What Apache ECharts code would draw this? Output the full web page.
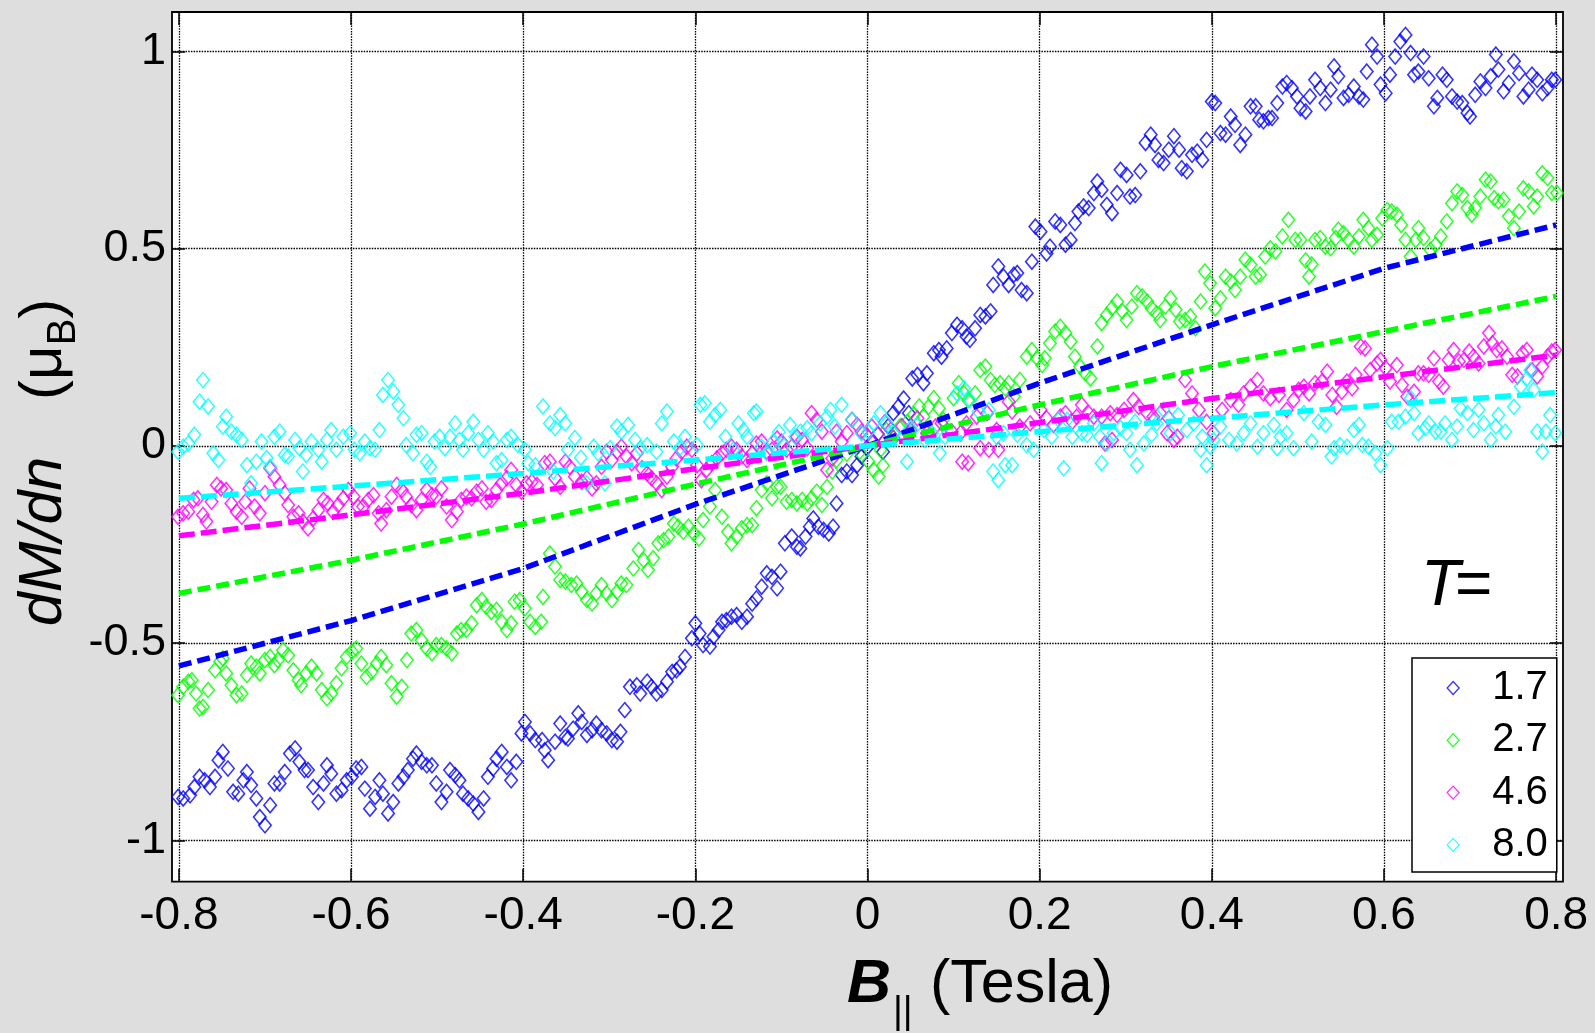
<!DOCTYPE html>
<html><head><meta charset="utf-8">
<script src="https://cdn.jsdelivr.net/npm/echarts@6/dist/echarts.min.js"></script>
<style>html,body{margin:0;padding:0;background:#dedede;}#c{width:1595px;height:1033px;}</style>
</head><body><div id="c"></div>
<script>
const xTicks = [-0.8,-0.6,-0.4,-0.2,0,0.2,0.4,0.6,0.8];
const yTicks = [-1,-0.5,0,0.5,1];
const tempLabels = ['1.7','2.7','4.6','8.0'];

const t17 = [[-0.801,-0.890],[-0.795,-0.894],[-0.787,-0.886],[-0.782,-0.865],[-0.776,-0.839],[-0.770,-0.848],[-0.764,-0.865],[-0.758,-0.839],[-0.754,-0.797],[-0.749,-0.776],[-0.743,-0.818],[-0.737,-0.877],[-0.731,-0.882],[-0.725,-0.848],[-0.721,-0.827],[-0.716,-0.860],[-0.710,-0.894],[-0.706,-0.941],[-0.700,-0.962],[-0.694,-0.911],[-0.689,-0.856],[-0.683,-0.856],[-0.677,-0.827],[-0.671,-0.780],[-0.665,-0.767],[-0.660,-0.801],[-0.654,-0.822],[-0.650,-0.822],[-0.644,-0.865],[-0.638,-0.903],[-0.632,-0.856],[-0.628,-0.810],[-0.623,-0.831],[-0.617,-0.882],[-0.611,-0.873],[-0.605,-0.848],[-0.599,-0.839],[-0.594,-0.818],[-0.588,-0.814],[-0.584,-0.869],[-0.578,-0.920],[-0.572,-0.890],[-0.567,-0.848],[-0.563,-0.882],[-0.557,-0.932],[-0.551,-0.903],[-0.545,-0.856],[-0.539,-0.839],[-0.534,-0.822],[-0.528,-0.793],[-0.524,-0.780],[-0.518,-0.801],[-0.512,-0.810],[-0.506,-0.810],[-0.501,-0.856],[-0.495,-0.903],[-0.489,-0.877],[-0.485,-0.822],[-0.479,-0.835],[-0.474,-0.848],[-0.470,-0.882],[-0.464,-0.894],[-0.458,-0.907],[-0.452,-0.928],[-0.446,-0.894],[-0.441,-0.839],[-0.435,-0.818],[-0.431,-0.793],[-0.425,-0.776],[-0.419,-0.814],[-0.414,-0.848],[-0.408,-0.801],[-0.402,-0.729],[-0.398,-0.700],[-0.392,-0.729],[-0.386,-0.746],
[-0.378,-0.746],[-0.375,-0.772],[-0.371,-0.797],[-0.363,-0.750],[-0.357,-0.704],[-0.351,-0.738],[-0.348,-0.742],[-0.342,-0.717],[-0.336,-0.678],[-0.332,-0.700],[-0.326,-0.733],[-0.320,-0.721],[-0.315,-0.704],[-0.309,-0.721],[-0.303,-0.729],[-0.297,-0.746],[-0.291,-0.750],[-0.287,-0.725],[-0.282,-0.670],[-0.276,-0.611],[-0.268,-0.607],[-0.264,-0.628],[-0.256,-0.598],[-0.251,-0.611],[-0.245,-0.628],[-0.239,-0.619],[-0.233,-0.598],[-0.227,-0.573],[-0.222,-0.569],[-0.218,-0.560],[-0.212,-0.535],[-0.204,-0.488],[-0.200,-0.450],[-0.195,-0.476],[-0.191,-0.505],[-0.183,-0.509],[-0.179,-0.484],[-0.173,-0.467],[-0.169,-0.446],[-0.164,-0.442],[-0.158,-0.433],[-0.152,-0.429],[-0.146,-0.446],[-0.140,-0.433],[-0.134,-0.400],[-0.129,-0.387],[-0.123,-0.357],[-0.117,-0.323],[-0.111,-0.332],[-0.105,-0.361],[-0.101,-0.319],[-0.096,-0.247],[-0.088,-0.230],[-0.082,-0.256],[-0.078,-0.260],[-0.072,-0.230],[-0.067,-0.205],[-0.063,-0.184],[-0.057,-0.205],[-0.051,-0.213],[-0.045,-0.222],[-0.040,-0.205],[-0.036,-0.146],[-0.030,-0.074],[-0.024,-0.065],[-0.018,-0.074],[-0.012,-0.049],[-0.007,-0.027],[-0.001,-0.006],[0.006,0.012],[0.012,0.030],[0.018,-0.015],[0.024,0.050],[0.030,0.083],[0.036,0.100],[0.042,0.120],[0.048,0.083],[0.052,0.171],[0.058,0.180],
[0.065,0.159],[0.069,0.184],[0.077,0.235],[0.083,0.243],[0.086,0.226],[0.092,0.247],[0.098,0.286],[0.104,0.307],[0.110,0.298],[0.115,0.277],[0.119,0.269],[0.125,0.298],[0.131,0.332],[0.137,0.328],[0.143,0.341],[0.146,0.408],[0.152,0.455],[0.158,0.429],[0.164,0.408],[0.170,0.434],[0.174,0.438],[0.179,0.395],[0.185,0.387],[0.191,0.467],[0.195,0.556],[0.201,0.543],[0.208,0.488],[0.212,0.505],[0.218,0.569],[0.224,0.560],[0.230,0.510],[0.236,0.522],[0.241,0.565],[0.245,0.594],[0.251,0.607],[0.257,0.603],[0.263,0.641],[0.267,0.670],[0.272,0.649],[0.278,0.611],[0.284,0.590],[0.290,0.641],[0.294,0.700],[0.301,0.687],[0.305,0.632],[0.311,0.636],[0.317,0.696],[0.323,0.768],[0.329,0.789],[0.334,0.763],[0.338,0.725],[0.344,0.717],[0.350,0.751],[0.356,0.785],[0.362,0.751],[0.365,0.704],[0.371,0.696],[0.377,0.738],[0.383,0.746],[0.389,0.725],[0.394,0.776],[0.400,0.873],[0.404,0.869],[0.410,0.793],[0.416,0.789],[0.422,0.835],[0.427,0.814],[0.433,0.763],[0.439,0.789],[0.445,0.861],[0.451,0.861],[0.455,0.827],[0.460,0.823],[0.466,0.831],[0.470,0.831],[0.476,0.869],[0.482,0.911],[0.487,0.920],[0.493,0.907],[0.499,0.886],[0.503,0.856],
[0.509,0.848],[0.514,0.886],[0.520,0.928],[0.526,0.907],[0.532,0.869],[0.538,0.903],[0.542,0.962],[0.547,0.937],[0.553,0.882],[0.559,0.890],[0.565,0.911],[0.571,0.886],[0.576,0.878],[0.580,0.949],[0.586,1.017],[0.592,0.987],[0.596,0.916],[0.602,0.894],[0.607,0.941],[0.613,0.987],[0.619,1.025],[0.625,1.042],[0.631,0.996],[0.635,0.941],[0.640,0.949],[0.646,0.987],[0.652,0.932],[0.658,0.861],[0.662,0.882],[0.668,0.941],[0.673,0.928],[0.679,0.886],[0.685,0.873],[0.691,0.869],[0.697,0.844],[0.700,0.835],[0.706,0.890],[0.712,0.924],[0.718,0.907],[0.724,0.937],[0.730,0.992],[0.733,0.954],[0.739,0.899],[0.745,0.920],[0.751,0.975],[0.757,0.945],[0.762,0.886],[0.768,0.903],[0.772,0.941],[0.778,0.928],[0.784,0.894],[0.790,0.907],[0.795,0.928],[0.799,0.928]];

const t27 = [[-0.801,-0.632],[-0.795,-0.611],[-0.789,-0.598],[-0.785,-0.594],[-0.780,-0.628],[-0.776,-0.666],[-0.772,-0.662],[-0.766,-0.619],[-0.758,-0.569],[-0.752,-0.547],[-0.749,-0.539],[-0.745,-0.577],[-0.739,-0.607],[-0.733,-0.632],[-0.727,-0.628],[-0.721,-0.581],[-0.716,-0.552],[-0.710,-0.560],[-0.706,-0.577],[-0.700,-0.543],[-0.694,-0.535],[-0.689,-0.556],[-0.685,-0.543],[-0.679,-0.518],[-0.673,-0.531],[-0.667,-0.569],[-0.661,-0.594],[-0.658,-0.607],[-0.652,-0.577],[-0.646,-0.560],[-0.640,-0.577],[-0.634,-0.619],[-0.628,-0.640],[-0.623,-0.628],[-0.617,-0.602],[-0.611,-0.564],[-0.605,-0.535],[-0.599,-0.522],[-0.594,-0.514],[-0.588,-0.552],[-0.582,-0.586],[-0.576,-0.573],[-0.570,-0.552],[-0.565,-0.535],[-0.559,-0.556],[-0.553,-0.602],[-0.547,-0.636],[-0.541,-0.611],[-0.535,-0.543],[-0.530,-0.476],[-0.524,-0.467],[-0.518,-0.493],[-0.512,-0.514],[-0.506,-0.526],[-0.501,-0.505],[-0.495,-0.505],[-0.489,-0.514],[-0.483,-0.526],[-0.477,-0.476],[-0.472,-0.467],[-0.466,-0.467],[-0.460,-0.450],[-0.454,-0.404],[-0.448,-0.391],[-0.443,-0.408],[-0.437,-0.421],[-0.431,-0.416],[-0.425,-0.446],[-0.419,-0.467],[-0.414,-0.450],[-0.410,-0.395],[-0.404,-0.391],[-0.398,-0.412],[-0.392,-0.446],[-0.386,-0.459],
[-0.379,-0.446],[-0.377,-0.383],[-0.369,-0.273],[-0.363,-0.306],[-0.357,-0.340],[-0.351,-0.344],[-0.344,-0.353],[-0.338,-0.349],[-0.332,-0.370],[-0.326,-0.391],[-0.320,-0.400],[-0.315,-0.374],[-0.309,-0.353],[-0.303,-0.374],[-0.297,-0.391],[-0.291,-0.370],[-0.286,-0.349],[-0.280,-0.353],[-0.272,-0.311],[-0.266,-0.264],[-0.260,-0.290],[-0.255,-0.315],[-0.249,-0.285],[-0.243,-0.247],[-0.237,-0.239],[-0.231,-0.230],[-0.225,-0.197],[-0.220,-0.205],[-0.214,-0.218],[-0.208,-0.205],[-0.202,-0.222],[-0.196,-0.235],[-0.191,-0.188],[-0.183,-0.154],[-0.177,-0.112],[-0.169,-0.180],[-0.162,-0.218],[-0.158,-0.247],[-0.152,-0.230],[-0.146,-0.209],[-0.140,-0.201],[-0.134,-0.201],[-0.129,-0.158],[-0.123,-0.112],[-0.117,-0.095],[-0.111,-0.133],[-0.105,-0.104],[-0.101,-0.104],[-0.094,-0.142],[-0.088,-0.137],[-0.082,-0.146],[-0.076,-0.137],[-0.070,-0.146],[-0.065,-0.133],[-0.059,-0.116],[-0.053,-0.150],[-0.047,-0.104],[-0.041,-0.065],[-0.036,-0.036],[-0.024,-0.020],[-0.009,-0.015],[0.001,-0.040],[0.007,-0.061],[0.013,-0.078],[0.015,-0.010],[0.018,-0.050],[0.022,0.040],[0.030,0.020],[0.038,0.050],[0.046,0.060],[0.054,0.080],[0.060,0.100],
[0.065,0.074],[0.071,0.099],[0.077,0.121],[0.083,0.095],[0.088,0.066],[0.100,0.121],[0.106,0.159],[0.112,0.133],[0.117,0.116],[0.125,0.133],[0.131,0.192],[0.137,0.201],[0.143,0.167],[0.148,0.154],[0.154,0.159],[0.160,0.146],[0.164,0.159],[0.170,0.125],[0.177,0.167],[0.185,0.226],[0.191,0.243],[0.197,0.222],[0.203,0.205],[0.206,0.222],[0.212,0.260],[0.218,0.290],[0.224,0.302],[0.230,0.286],[0.236,0.264],[0.241,0.226],[0.247,0.201],[0.253,0.184],[0.259,0.171],[0.267,0.252],[0.272,0.311],[0.278,0.332],[0.284,0.349],[0.290,0.366],[0.296,0.341],[0.301,0.319],[0.307,0.353],[0.313,0.387],[0.319,0.379],[0.325,0.366],[0.330,0.349],[0.336,0.336],[0.340,0.319],[0.346,0.353],[0.352,0.374],[0.358,0.345],[0.363,0.315],[0.369,0.319],[0.375,0.328],[0.381,0.298],[0.387,0.366],[0.392,0.442],[0.398,0.412],[0.404,0.349],[0.410,0.374],[0.416,0.429],[0.422,0.417],[0.427,0.395],[0.433,0.429],[0.439,0.472],[0.445,0.459],[0.451,0.429],[0.456,0.434],[0.462,0.480],[0.468,0.501],[0.474,0.493],[0.482,0.531],[0.489,0.573],[0.497,0.522],
[0.503,0.522],[0.509,0.470],[0.513,0.429],[0.516,0.460],[0.520,0.522],[0.526,0.527],[0.532,0.505],[0.538,0.501],[0.544,0.527],[0.547,0.548],[0.553,0.539],[0.559,0.522],[0.565,0.505],[0.571,0.531],[0.576,0.573],[0.582,0.552],[0.586,0.522],[0.592,0.535],[0.598,0.577],[0.604,0.598],[0.609,0.594],[0.615,0.586],[0.620,0.560],[0.625,0.522],[0.631,0.480],[0.637,0.522],[0.640,0.552],[0.646,0.527],[0.654,0.497],[0.660,0.510],[0.666,0.531],[0.673,0.569],[0.679,0.615],[0.685,0.645],[0.691,0.636],[0.697,0.603],[0.702,0.586],[0.706,0.603],[0.712,0.632],[0.718,0.675],[0.724,0.670],[0.728,0.628],[0.733,0.620],[0.739,0.624],[0.745,0.582],[0.751,0.552],[0.757,0.594],[0.762,0.653],[0.768,0.645],[0.774,0.607],[0.778,0.632],[0.784,0.691],[0.790,0.679],[0.795,0.641],[0.801,0.641]];

const t46 = [[-0.801,-0.180],[-0.795,-0.171],[-0.789,-0.167],[-0.783,-0.137],[-0.778,-0.133],[-0.772,-0.175],[-0.768,-0.192],[-0.762,-0.142],[-0.756,-0.099],[-0.751,-0.108],[-0.745,-0.112],[-0.739,-0.146],[-0.733,-0.167],[-0.727,-0.180],[-0.723,-0.142],[-0.718,-0.108],[-0.712,-0.154],[-0.706,-0.171],[-0.700,-0.120],[-0.694,-0.057],[-0.689,-0.078],[-0.683,-0.099],[-0.677,-0.120],[-0.673,-0.150],[-0.667,-0.180],[-0.661,-0.171],[-0.656,-0.192],[-0.650,-0.209],[-0.644,-0.184],[-0.638,-0.163],[-0.632,-0.137],[-0.627,-0.146],[-0.621,-0.167],[-0.615,-0.150],[-0.609,-0.133],[-0.603,-0.112],[-0.597,-0.129],[-0.592,-0.154],[-0.586,-0.154],[-0.580,-0.137],[-0.574,-0.125],[-0.568,-0.171],[-0.565,-0.197],[-0.559,-0.163],[-0.553,-0.129],[-0.547,-0.099],[-0.541,-0.112],[-0.536,-0.129],[-0.530,-0.150],[-0.524,-0.163],[-0.518,-0.137],[-0.512,-0.112],[-0.506,-0.125],[-0.501,-0.129],[-0.495,-0.108],[-0.489,-0.154],[-0.483,-0.188],[-0.477,-0.167],[-0.472,-0.137],[-0.466,-0.129],[-0.460,-0.133],[-0.454,-0.116],[-0.448,-0.108],[-0.443,-0.142],[-0.437,-0.137],[-0.431,-0.112],[-0.425,-0.095],[-0.419,-0.082],[-0.414,-0.061],[-0.408,-0.099],[-0.402,-0.116],[-0.396,-0.095],[-0.390,-0.091],[-0.384,-0.099],
[-0.375,-0.044],[-0.369,-0.040],[-0.363,-0.082],[-0.357,-0.104],[-0.351,-0.040],[-0.346,-0.053],[-0.340,-0.078],[-0.332,-0.091],[-0.326,-0.082],[-0.320,-0.108],[-0.315,-0.095],[-0.309,-0.053],[-0.303,-0.015],[-0.297,-0.036],[-0.291,-0.015],[-0.286,-0.002],[-0.280,-0.027],[-0.274,-0.044],[-0.268,-0.019],[-0.262,-0.057],[-0.256,-0.070],[-0.251,-0.082],[-0.245,-0.095],[-0.239,-0.112],[-0.233,-0.078],[-0.227,-0.053],[-0.222,-0.032],[-0.216,-0.015],[-0.210,-0.002],[-0.204,-0.010],[-0.198,-0.049],[-0.193,-0.087],[-0.187,-0.061],[-0.181,-0.044],[-0.175,-0.032],[-0.169,-0.019],[-0.164,-0.010],[-0.158,-0.002],[-0.152,-0.010],[-0.146,-0.027],[-0.140,-0.036],[-0.134,-0.019],[-0.129,0.006],[-0.123,0.011],[-0.117,-0.015],[-0.111,-0.010],[-0.105,0.019],[-0.100,0.011],[-0.094,-0.010],[-0.088,-0.002],[-0.082,0.023],[-0.076,0.015],[-0.070,-0.006],[-0.065,0.083],[-0.059,0.066],[-0.053,0.036],[-0.047,-0.061],[-0.041,-0.032],[-0.036,0.036],[-0.030,0.011],[-0.024,0.032],[-0.018,0.066],[-0.012,0.053],[-0.007,0.036],[-0.001,0.027],[0.005,0.049],[0.012,0.030],[0.020,0.060],[0.030,0.020],[0.040,0.050],[0.050,0.040],[0.058,0.070],
[0.069,0.032],[0.079,0.049],[0.086,0.057],[0.098,0.036],[0.108,0.032],[0.110,-0.040],[0.115,0.057],[0.117,-0.044],[0.127,0.074],[0.131,-0.006],[0.139,0.083],[0.141,-0.010],[0.150,0.040],[0.152,-0.010],[0.164,0.112],[0.168,0.087],[0.177,0.049],[0.189,0.057],[0.201,0.091],[0.208,0.070],[0.216,0.053],[0.224,0.074],[0.230,0.083],[0.238,0.061],[0.243,0.074],[0.249,0.104],[0.257,0.083],[0.263,0.074],[0.272,0.074],[0.276,0.006],[0.282,0.083],[0.284,0.015],[0.290,0.078],[0.298,0.091],[0.309,0.116],[0.315,0.099],[0.325,0.083],[0.332,0.074],[0.340,0.083],[0.348,0.032],[0.350,0.070],[0.356,0.015],[0.360,0.023],[0.369,0.167],[0.377,0.133],[0.385,0.091],[0.394,0.061],[0.402,0.032],[0.412,0.091],[0.422,0.116],[0.431,0.104],[0.437,0.133],[0.445,0.150],[0.453,0.167],[0.460,0.133],[0.468,0.121],[0.478,0.129],[0.487,0.091],[0.495,0.116],[0.501,0.142],
[0.507,0.150],[0.513,0.133],[0.520,0.159],[0.528,0.163],[0.534,0.188],[0.540,0.129],[0.545,0.099],[0.551,0.137],[0.557,0.163],[0.563,0.146],[0.567,0.180],[0.573,0.252],[0.578,0.247],[0.584,0.192],[0.592,0.209],[0.596,0.218],[0.602,0.197],[0.607,0.163],[0.615,0.205],[0.621,0.154],[0.627,0.125],[0.635,0.137],[0.640,0.184],[0.646,0.184],[0.652,0.180],[0.658,0.222],[0.664,0.163],[0.669,0.150],[0.675,0.218],[0.681,0.243],[0.687,0.214],[0.693,0.218],[0.699,0.239],[0.704,0.226],[0.710,0.209],[0.716,0.252],[0.722,0.286],[0.726,0.260],[0.731,0.243],[0.737,0.247],[0.743,0.226],[0.749,0.180],[0.755,0.176],[0.761,0.235],[0.766,0.243],[0.772,0.192],[0.778,0.176],[0.784,0.201],[0.790,0.226],[0.795,0.239],[0.799,0.243]];

const t80 = [[-0.801,-0.015],[-0.795,-0.002],[-0.789,0.006],[-0.782,0.028],[-0.776,0.112],[-0.772,0.167],[-0.766,0.100],[-0.760,-0.019],[-0.754,-0.036],[-0.749,0.049],[-0.745,0.074],[-0.739,0.036],[-0.733,0.028],[-0.727,0.015],[-0.721,-0.049],[-0.716,-0.095],[-0.710,-0.040],[-0.704,0.011],[-0.698,-0.031],[-0.694,-0.053],[-0.689,0.023],[-0.683,0.036],[-0.677,-0.023],[-0.673,-0.027],[-0.665,0.015],[-0.660,-0.006],[-0.656,-0.065],[-0.652,-0.023],[-0.646,0.011],[-0.638,-0.010],[-0.634,-0.040],[-0.628,0.015],[-0.623,0.040],[-0.617,-0.010],[-0.609,0.023],[-0.601,0.032],[-0.596,-0.010],[-0.590,-0.019],[-0.584,0.011],[-0.578,-0.006],[-0.572,-0.010],[-0.567,0.040],[-0.563,0.129],[-0.557,0.167],[-0.551,0.138],[-0.545,0.104],[-0.539,0.070],[-0.536,0.002],[-0.528,-0.019],[-0.524,0.028],[-0.518,0.032],[-0.512,-0.040],[-0.508,-0.053],[-0.503,0.011],[-0.497,0.023],[-0.491,-0.006],[-0.485,0.023],[-0.479,0.057],[-0.474,0.015],[-0.470,-0.010],[-0.464,0.032],[-0.458,0.061],[-0.452,0.015],[-0.446,-0.010],[-0.441,0.032],[-0.435,0.011],[-0.431,-0.044],[-0.425,-0.036],[-0.419,0.015],[-0.414,0.023],[-0.406,0.002],[-0.398,-0.010],[-0.394,-0.044],[-0.386,-0.049],
[-0.377,0.100],[-0.369,0.057],[-0.365,-0.065],[-0.363,0.045],[-0.357,0.078],[-0.351,0.057],[-0.348,-0.010],[-0.340,0.020],[-0.333,-0.030],[-0.326,-0.095],[-0.318,-0.002],[-0.313,-0.019],[-0.305,-0.095],[-0.299,-0.006],[-0.291,0.049],[-0.286,0.036],[-0.278,0.053],[-0.270,0.015],[-0.264,-0.006],[-0.256,0.002],[-0.245,-0.015],[-0.239,0.057],[-0.233,0.087],[-0.225,0.011],[-0.218,-0.006],[-0.212,0.023],[-0.198,0.002],[-0.194,0.104],[-0.189,0.108],[-0.183,0.061],[-0.177,0.078],[-0.171,0.091],[-0.165,0.023],[-0.156,-0.010],[-0.150,0.057],[-0.144,0.040],[-0.140,0.023],[-0.132,0.083],[-0.129,0.087],[-0.123,-0.002],[-0.117,-0.019],[-0.110,0.010],[-0.103,0.035],[-0.097,0.000],[-0.090,0.053],[-0.084,0.023],[-0.078,0.036],[-0.070,0.045],[-0.065,0.032],[-0.055,0.057],[-0.047,0.074],[-0.043,0.091],[-0.038,0.049],[-0.030,0.104],[-0.018,0.066],[-0.007,0.032],[0.001,0.036],[0.007,0.057],[0.015,0.083],[0.022,0.057],[0.030,0.032],[0.042,0.023],[0.046,-0.040],[0.050,0.045],[0.057,0.053],
[0.067,0.015],[0.075,0.032],[0.084,-0.019],[0.090,0.023],[0.104,0.133],[0.112,0.146],[0.119,0.116],[0.129,0.087],[0.141,0.091],[0.146,-0.065],[0.150,0.023],[0.152,-0.087],[0.158,0.032],[0.160,-0.049],[0.168,-0.049],[0.174,0.028],[0.185,0.002],[0.193,-0.010],[0.205,0.040],[0.214,0.023],[0.222,0.066],[0.228,-0.057],[0.232,0.066],[0.238,0.023],[0.249,0.032],[0.255,0.028],[0.263,0.057],[0.270,0.023],[0.272,-0.044],[0.278,0.006],[0.286,0.032],[0.294,0.045],[0.301,0.032],[0.305,-0.010],[0.311,0.061],[0.313,-0.049],[0.321,0.006],[0.330,0.028],[0.336,0.057],[0.344,0.091],[0.352,0.032],[0.361,0.078],[0.371,0.040],[0.379,0.057],[0.387,-0.010],[0.389,0.023],[0.394,-0.049],[0.398,-0.002],[0.402,0.015],[0.410,0.049],[0.420,0.015],[0.429,0.006],[0.437,0.032],[0.445,0.057],[0.453,-0.002],[0.460,0.032],[0.472,0.053],[0.476,-0.006],[0.480,0.023],[0.487,0.032],[0.495,-0.006],
[0.507,0.083],[0.516,0.011],[0.524,0.061],[0.532,0.053],[0.539,-0.027],[0.542,-0.006],[0.549,0.002],[0.557,-0.002],[0.565,0.040],[0.571,0.053],[0.575,0.002],[0.582,-0.002],[0.590,-0.019],[0.596,-0.049],[0.604,-0.006],[0.609,0.061],[0.617,0.061],[0.625,0.074],[0.631,0.121],[0.635,0.083],[0.640,0.032],[0.648,0.045],[0.652,0.057],[0.660,0.036],[0.666,0.036],[0.671,0.057],[0.679,0.015],[0.685,0.049],[0.689,0.095],[0.697,0.083],[0.704,0.040],[0.710,0.091],[0.716,0.057],[0.724,0.015],[0.730,0.049],[0.733,0.078],[0.741,0.036],[0.751,0.099],[0.759,0.150],[0.766,0.171],[0.770,0.192],[0.774,0.142],[0.778,0.036],[0.784,-0.015],[0.788,0.036],[0.793,0.078],[0.799,0.032]];

const fitB = [-0.8,-0.6,-0.4,-0.2,0,0.2,0.4,0.6,0.8];
const fit17 = [-0.558,-0.443,-0.311,-0.148,0,0.159,0.307,0.450,0.560];
const fit27 = [-0.374,-0.290,-0.198,-0.097,0,0.104,0.201,0.290,0.379];
const fit46 = [-0.228,-0.175,-0.120,-0.058,0,0.059,0.120,0.175,0.230];
const fit80 = [-0.133,-0.102,-0.070,-0.036,0,0.036,0.070,0.104,0.135];

const FONT = '"Liberation Sans", Arial, Helvetica, sans-serif';
const colors = ['#0000ff','#00ff00','#ff00ff','#00ffff'];
const scatterSets = [t17,t27,t46,t80];
const fitSets = [fit17,fit27,fit46,fit80];
const dashes = [[13,6],[13,6],[16,6],[16,6]];

const chart = echarts.init(document.getElementById('c'), null, {renderer:'canvas'});

const series = [];
scatterSets.forEach((d,i)=>{
  series.push({name:tempLabels[i], type:'scatter', data:d, symbol:'diamond', symbolSize:[12.5,15],
    itemStyle:{color:'rgba(255,255,255,0)', borderColor:colors[i], borderWidth:1.6}, z:2+i, animation:false});
});
fitSets.forEach((f,i)=>{
  series.push({name:'fit'+tempLabels[i], type:'line', data:fitB.map((b,j)=>[b,f[j]]), symbol:'none', silent:true,
    lineStyle:{color:colors[i], width:5.5, type:dashes[i]}, z:10+i, animation:false});
});

const tickStyle = {color:'#000', width:1.5};
const gridLine = {show:true, lineStyle:{color:'#000', width:1.3, type:[1.5,1.2]}};

function txt(text, x, y, font, rot, align) {
  return {type:'text', x:x, y:y, rotation:rot||0, silent:true, z:100,
    style:{text:text, font:font, fill:'#000', align:align||'left', verticalAlign:'middle', textAlign:align||'left', textVerticalAlign:'middle'}};
}

chart.setOption({
  backgroundColor:'#dedede',
  animation:false,
  grid:{left:172, top:12, right:32, bottom:151.3, show:true, backgroundColor:'#ffffff', borderColor:'#000', borderWidth:1.8, outerBoundsMode:'none', containLabel:false},
  xAxis:[{type:'value', min:-0.808, max:0.808, position:'bottom',
      axisLine:{show:false, onZero:false},
      axisTick:{show:true, inside:true, length:13, customValues:xTicks, lineStyle:tickStyle},
      axisLabel:{show:true, customValues:xTicks, fontSize:46, fontFamily:FONT, color:'#000', margin:12},
      splitLine:gridLine},
    {type:'value', min:-0.808, max:0.808, position:'top',
      axisLine:{show:false, onZero:false},
      axisTick:{show:true, inside:true, length:13, customValues:xTicks, lineStyle:tickStyle},
      axisLabel:{show:false}, splitLine:{show:false}}],
  yAxis:[{type:'value', min:-1.105, max:1.1, position:'left',
      axisLine:{show:false, onZero:false},
      axisTick:{show:true, inside:true, length:13, customValues:yTicks, lineStyle:tickStyle},
      axisLabel:{show:true, customValues:yTicks, fontSize:45, fontFamily:FONT, color:'#000', margin:6},
      splitLine:gridLine},
    {type:'value', min:-1.105, max:1.1, position:'right',
      axisLine:{show:false, onZero:false},
      axisTick:{show:true, inside:true, length:13, customValues:yTicks, lineStyle:tickStyle},
      axisLabel:{show:false}, splitLine:{show:false}}],
  legend:{
    data:tempLabels.map((n,i)=>({name:n, icon:'diamond', itemStyle:{color:'rgba(255,255,255,0)', borderColor:colors[i], borderWidth:1.3}})),
    orient:'vertical', left:1412, top:658, padding:[7,9,4,34.5],
    itemWidth:12, itemHeight:13, itemGap:6.3,
    backgroundColor:'#ffffff', borderColor:'#000', borderWidth:1.5, borderRadius:0,
    selectedMode:false,
    textStyle:{fontSize:40, fontFamily:FONT, color:'#000', lineHeight:46, padding:[0,0,0,28]}
  },
  graphic:[
    txt('B', 847, 985.5, 'italic bold 61px ' + FONT),
    txt('||', 893, 1013, '38px ' + FONT),
    txt('(Tesla)', 930, 985.5, '61px ' + FONT),
    txt('dM/dn', 44, 541.5, 'italic 61px ' + FONT, Math.PI/2, 'center'),
    txt('(\u03bc', 44, 372.7, '60px ' + FONT, Math.PI/2, 'center'),
    txt('B', 64, 332, '40px ' + FONT, Math.PI/2, 'center'),
    txt(')', 44, 308.8, '60px ' + FONT, Math.PI/2, 'center'),
    txt('T', 1421, 587, 'italic 64px ' + FONT),
    txt('=', 1455, 587, '64px ' + FONT)
  ],
  series:series
});
</script>
</body></html>
